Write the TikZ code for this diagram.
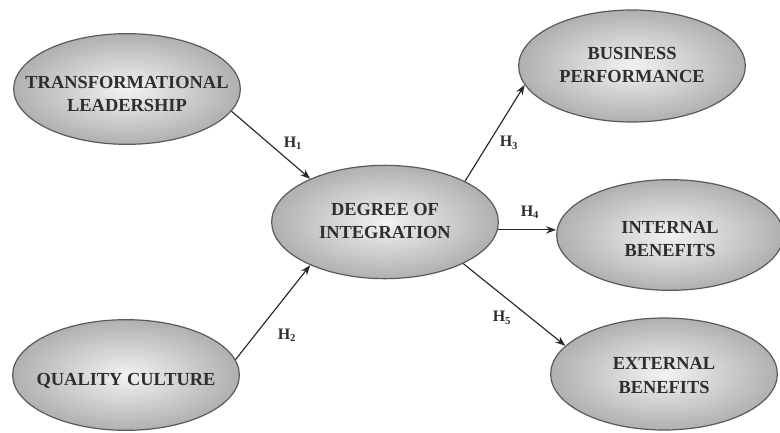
\documentclass[tikz,border=0pt]{standalone}
\usepackage{fontspec}
\setmainfont{Liberation Serif}
\usetikzlibrary{shapes.geometric,arrows.meta}
\definecolor{txt}{HTML}{2E2E2E}
\definecolor{rim}{HTML}{5A5A5A}
\newcommand\ovaltxt[2][0pt]{\raisebox{#1}[\height][\depth]{\makebox[0pt][c]{\begin{tabular}{@{}c@{}}#2\end{tabular}}}}
\begin{document}
\begin{tikzpicture}[x=0.75pt,y=-0.75pt,
  oval/.style={ellipse,draw=rim,line width=0.9pt,inner color=gray!10,outer color=gray!62,
    minimum width=170pt,minimum height=83pt,inner sep=0pt,
    font=\bfseries\fontsize{13.8}{17.5}\selectfont,text=txt},
  link/.style={draw=black!85,line width=0.85pt,-{Stealth[length=7.5pt,width=5.5pt]}},
  hyp/.style={font=\bfseries\fontsize{12}{13}\selectfont,text=txt,inner sep=1pt}]
\useasboundingbox (0,0) rectangle (780,432);
\node[oval] (tl) at (127,89) {\ovaltxt[-4.5pt]{TRANSFORMATIONAL\\LEADERSHIP}};
\node[oval] (qc) at (126,375) {\ovaltxt[-4pt]{QUALITY CULTURE}};
\node[oval,minimum height=85pt] (doi) at (385,222) {\ovaltxt{DEGREE OF\\INTEGRATION}};
\node[oval,minimum height=84pt] (bp) at (632,66) {\ovaltxt{BUSINESS\\PERFORMANCE}};
\node[oval] (ib) at (670,235) {\ovaltxt[-4pt]{INTERNAL\\BENEFITS}};
\node[oval,minimum height=84pt] (eb) at (664,374) {\ovaltxt[-2pt]{EXTERNAL\\BENEFITS}};
\draw[link] (tl.-12) -- (doi.150);
\draw[link] (qc.8) -- (doi.210);
\draw[link] (doi.27) -- (bp.190);
\draw[link] (doi.-4) -- (ib.west |- doi.-4);
\draw[link] (doi.-28) -- (eb.164);
\node[hyp] (h1) at (293,143) {H\textsubscript{1}};
\node[hyp] (h2) at (287,335) {H\textsubscript{2}};
\node[hyp] (h3) at (509,143) {H\textsubscript{3}};
\node[hyp] (h4) at (530,212) {H\textsubscript{4}};
\node[hyp] (h5) at (502,318) {H\textsubscript{5}};
\end{tikzpicture}
\end{document}
